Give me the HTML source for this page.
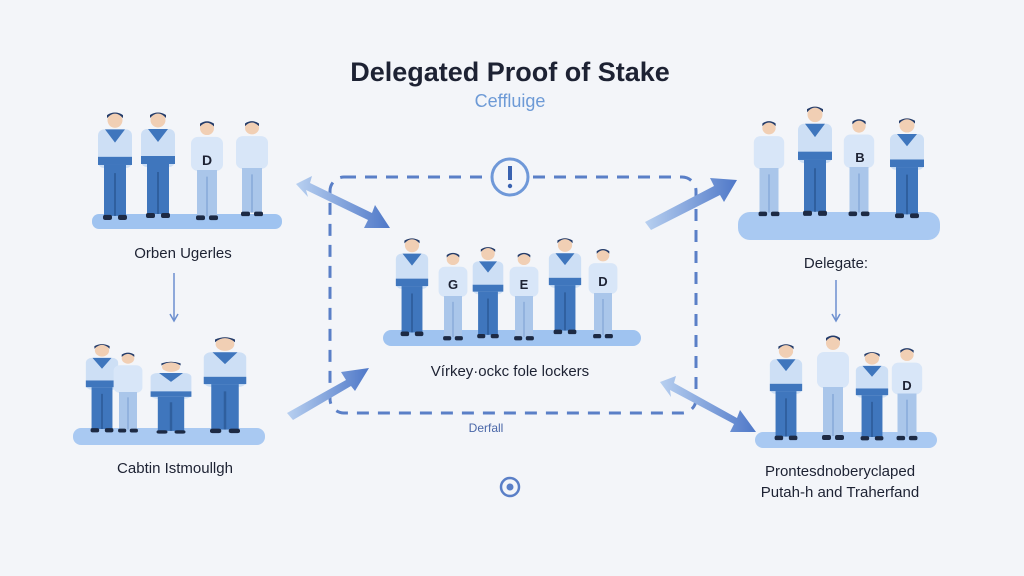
<!DOCTYPE html>
<html><head><meta charset="utf-8"><style>
html,body{margin:0;padding:0;background:#f3f5f9;}
svg{display:block}
text{font-family:"Liberation Sans",sans-serif;fill:#1d2233}
</style></head><body>
<svg width="1024" height="576" viewBox="0 0 1024 576" xmlns="http://www.w3.org/2000/svg">
<defs>
<linearGradient id="ag" x1="0" y1="0" x2="1" y2="0"><stop offset="0" stop-color="#b8d0f0"/><stop offset="1" stop-color="#4f78c8"/></linearGradient>
<symbol id="pA" viewBox="0 0 40 110" preserveAspectRatio="none">
<circle cx="20" cy="10" r="7.5" fill="#f1cfb4"/><path d="M12 8 Q20 -1 28 8 L28 5 Q20 0 12 5Z" fill="#243c6a"/>
<rect x="3" y="19" width="34" height="38" rx="6" fill="#cddff5"/><path d="M10 19 L20 32 L30 19 Z" fill="#3f76bd"/>
<rect x="3" y="46" width="34" height="8" fill="#3f76bd"/>
<rect x="9" y="54" width="22" height="50" fill="#3f76bd"/><rect x="19" y="62" width="2" height="42" fill="#2f5f9e"/>
<rect x="8" y="103" width="9" height="5" rx="2" fill="#1d2a44"/><rect x="23" y="103" width="9" height="5" rx="2" fill="#1d2a44"/>
</symbol>
<symbol id="pB" viewBox="0 0 40 110" preserveAspectRatio="none">
<circle cx="20" cy="11" r="7" fill="#f1cfb4"/><path d="M13 9 Q20 1 27 9 L27 6 Q20 1 13 6Z" fill="#243c6a"/>
<rect x="4" y="20" width="32" height="36" rx="7" fill="#d8e6f8"/>
<rect x="10" y="55" width="20" height="49" fill="#aac6ea"/><rect x="19" y="62" width="2" height="42" fill="#8fb0dd"/>
<rect x="9" y="103" width="9" height="5" rx="2" fill="#1d2a44"/><rect x="22" y="103" width="9" height="5" rx="2" fill="#1d2a44"/>
</symbol>
</defs>

<text x="510" y="81" text-anchor="middle" font-size="27" font-weight="bold" fill="#1e2438">Delegated Proof of Stake</text>
<text x="510" y="107" text-anchor="middle" font-size="18" style="fill:#6d9ad6">Ceffluige</text>

<rect x="330" y="177" width="366" height="236" rx="14" fill="none" stroke="#5a7fc7" stroke-width="3" stroke-dasharray="12 9"/>
<circle cx="510" cy="177" r="18" fill="#f3f5f9" stroke="#6f98d8" stroke-width="3"/>
<rect x="508" y="166" width="4" height="14" fill="#3a62b0"/><circle cx="510" cy="186" r="2.2" fill="#3a62b0"/>

<rect x="92" y="214" width="190" height="15" rx="7" fill="#9fc3f0"/>
<rect x="383" y="330" width="258" height="16" rx="8" fill="#9fc3f0"/>
<rect x="738" y="212" width="202" height="28" rx="12" fill="#a9c9f2"/>
<rect x="73" y="428" width="192" height="17" rx="8" fill="#a9c9f2"/>
<rect x="755" y="432" width="182" height="16" rx="8" fill="#a9c9f2"/>

<use href="#pA" x="95" y="110" width="40" height="112"/>
<use href="#pA" x="138" y="110" width="40" height="110"/>
<use href="#pB" x="187" y="118" width="40" height="104"/>
<use href="#pB" x="232" y="118" width="40" height="100"/>
<text x="207" y="165" text-anchor="middle" font-size="14" font-weight="bold" fill="#2e5c9c">D</text>

<use href="#pA" x="393" y="236" width="38" height="102"/>
<use href="#pB" x="435" y="250" width="36" height="92"/>
<use href="#pA" x="470" y="245" width="36" height="95"/>
<use href="#pB" x="506" y="250" width="36" height="92"/>
<use href="#pA" x="546" y="236" width="38" height="100"/>
<use href="#pB" x="585" y="246" width="36" height="94"/>
<text x="453" y="289" text-anchor="middle" font-size="13" font-weight="bold" fill="#2e5c9c">G</text>
<text x="524" y="289" text-anchor="middle" font-size="13" font-weight="bold" fill="#2e5c9c">E</text>
<text x="603" y="286" text-anchor="middle" font-size="13" font-weight="bold" fill="#2e5c9c">D</text>

<use href="#pB" x="750" y="118" width="38" height="100"/>
<use href="#pA" x="795" y="104" width="40" height="114"/>
<use href="#pB" x="840" y="116" width="38" height="102"/>
<use href="#pA" x="887" y="116" width="40" height="104"/>
<text x="860" y="162" text-anchor="middle" font-size="13" font-weight="bold" fill="#2e5c9c">B</text>

<use href="#pA" x="83" y="342" width="38" height="92"/>
<use href="#pB" x="110" y="350" width="36" height="84"/>
<use href="#pA" x="147" y="360" width="48" height="75"/>
<use href="#pA" x="200" y="335" width="50" height="100"/>

<use href="#pA" x="767" y="342" width="38" height="100"/>
<use href="#pB" x="813" y="332" width="40" height="110"/>
<use href="#pA" x="853" y="350" width="38" height="92"/>
<use href="#pB" x="888" y="345" width="38" height="97"/>
<text x="907" y="390" text-anchor="middle" font-size="13" font-weight="bold" fill="#2e5c9c">D</text>

<g fill="url(#ag)">
<path d="M296 184 L312 176 L310 183 L372 213 L375 205 L390 228 L364 228 L368 220 L306 190 L308 197 Z"/>
<path d="M645 222 L714 186 L710 178 L737 180 L724 202 L720 195 L651 230 Z"/>
<path d="M287 413 L346 380 L341 372 L369 368 L355 391 L351 386 L293 420 Z"/>
<path d="M660 382 L676 376 L674 383 L737 418 L740 410 L756 432 L730 432 L734 424 L670 390 L671 397 Z"/>
</g>
<g stroke="#6c8fcf" stroke-width="1.5" fill="none">
<line x1="174" y1="273" x2="174" y2="320"/><path d="M170 314 L174 321 L178 314"/>
<line x1="836" y1="280" x2="836" y2="320"/><path d="M832 314 L836 321 L840 314"/>
</g>

<text x="183" y="258" text-anchor="middle" font-size="15">Orben Ugerles</text>
<text x="175" y="473" text-anchor="middle" font-size="15">Cabtin Istmoullgh</text>
<text x="836" y="268" text-anchor="middle" font-size="15">Delegate:</text>
<text x="510" y="376" text-anchor="middle" font-size="15">Vírkey·ockc fole lockers</text>
<text x="840" y="476" text-anchor="middle" font-size="15">Prontesdnoberyclaped</text>
<text x="840" y="497" text-anchor="middle" font-size="15">Putah-h and Traherfand</text>
<text x="486" y="432" text-anchor="middle" font-size="12" style="fill:#4a67a8">Derfall</text>
<circle cx="510" cy="487" r="9" fill="none" stroke="#5a7fc7" stroke-width="2.5"/>
<circle cx="510" cy="487" r="3.5" fill="#5a7fc7"/>
</svg>
</body></html>
